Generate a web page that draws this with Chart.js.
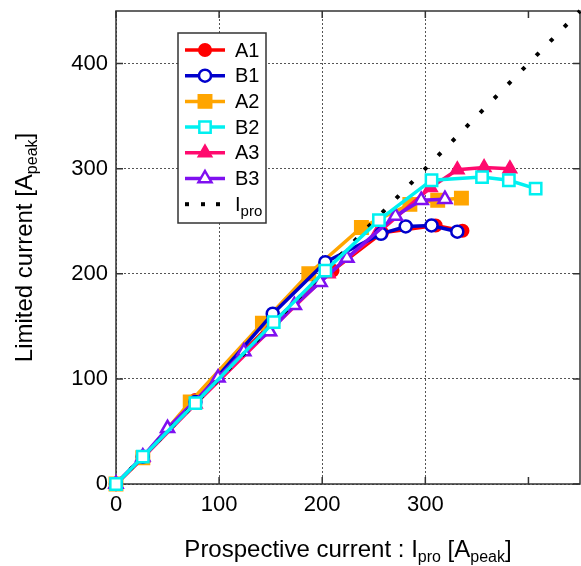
<!DOCTYPE html>
<html lang="en">
<head>
<meta charset="UTF-8">
<title>Limited current vs prospective current</title>
<script src="https://cdn.jsdelivr.net/npm/chart.js@4.4.1/dist/chart.umd.min.js"></script>
<style>
  html, body { margin: 0; padding: 0; background: #fff; overflow: hidden; }
  #wrap { width: 591px; height: 566px; }
</style>
</head>
<body>
<div id="wrap"><canvas id="chart" width="591" height="566"></canvas></div>
<script>
// Prospective current (x) vs limited current (y), A_peak
const a1X = [0, 26, 77, 153, 210, 258, 310, 336];
const a1Y = [0, 25, 80, 155, 203, 239, 246, 241];
const b1X = [0, 26, 77, 152, 203, 257, 281, 306, 331];
const b1Y = [0, 26, 78, 162, 211, 238, 245, 246, 240];
const a2X = [0, 26, 72, 142, 187, 238, 285, 312, 335];
const a2Y = [0, 25, 78, 153, 200, 244, 266, 270, 272];
const b2X = [0, 26, 77, 153, 203, 255, 306, 355, 381, 407];
const b2Y = [0, 26, 77, 154, 203, 251, 289, 292, 289, 281];
const a3X = [0, 26, 77, 148, 206, 253, 305, 331, 357, 382];
const a3Y = [0, 25, 76, 145, 200, 238, 282, 299, 301, 300];
const b3X = [0, 26, 50, 99, 124, 149, 173, 198, 224, 271, 296, 319];
const b3Y = [0, 26, 53, 101, 126, 145, 170, 192, 215, 255, 270, 271];
const iproX = [0, 450];
const iproY = [0, 450];

const xTicks = [0, 100, 200, 300, 400];
const yTicks = [0, 100, 200, 300, 400];

const FONT = "'Liberation Sans', Arial, sans-serif";

function pts(xs, ys) { return xs.map((x, i) => ({ x: x, y: ys[i] })); }

// kind / filled are only used by the hand-drawn legend
function series(label, xs, ys, color, kind, filled, radius, bw, order) {
  return {
    label: label, data: pts(xs, ys), kind: kind, filled: filled,
    borderColor: color, borderWidth: 3.5, showLine: true, clip: false,
    pointStyle: kind, pointRadius: radius, pointHoverRadius: radius,
    pointBorderWidth: bw, pointBorderColor: color,
    pointBackgroundColor: filled ? color : '#fff',
    order: order,
  };
}

const datasets = [
  series('A1', a1X, a1Y, '#ff0000', 'circle', true, 6, 2, 6),
  series('B1', b1X, b1Y, '#0000cc', 'circle', false, 6, 2.5, 3),
  series('A2', a2X, a2Y, '#ffa500', 'rect', true, 9.5, 1.5, 5),
  series('B2', b2X, b2Y, '#00f0f0', 'rect', false, 8, 2.5, 0),
  series('A3', a3X, a3Y, '#ff0a6e', 'triangle', true, 8, 1.5, 4),
  series('B3', b3X, b3Y, '#7f10f0', 'triangle', false, 7.5, 2.5, 2),
  {
    label: 'Ipro', data: pts(iproX, iproY), showLine: true, clip: false,
    borderColor: '#000', borderWidth: 4, borderDash: [4, 16],
    pointRadius: 0, pointHoverRadius: 0, order: 1, kind: 'dots',
  },
];

// text with subscripts, parts = [[text, isSub], ...]
function richWidth(ctx, parts, size, subSize) {
  let w = 0;
  parts.forEach(p => { ctx.font = (p[1] ? subSize : size) + 'px ' + FONT; w += ctx.measureText(p[0]).width; });
  return w;
}
function drawRich(ctx, parts, x, y, size, subSize) {
  let cx = x - richWidth(ctx, parts, size, subSize) / 2;
  ctx.textAlign = 'left';
  ctx.textBaseline = 'alphabetic';
  parts.forEach(p => {
    ctx.font = (p[1] ? subSize : size) + 'px ' + FONT;
    ctx.fillText(p[0], cx, p[1] ? y + 5 : y);
    cx += ctx.measureText(p[0]).width;
  });
}
function drawRichLeft(ctx, parts, x, y, size, subSize) {
  const w = richWidth(ctx, parts, size, subSize);
  drawRich(ctx, parts, x + w / 2, y, size, subSize);
}

function marker(ctx, ds, x, y) {
  const r = ds.pointRadius;
  ctx.beginPath();
  if (ds.kind === 'circle') {
    ctx.arc(x, y, r, 0, Math.PI * 2);
  } else if (ds.kind === 'rect') {
    const s = r * Math.SQRT1_2;
    ctx.rect(x - s, y - s, 2 * s, 2 * s);
  } else {
    ctx.moveTo(x, y - r);
    ctx.lineTo(x + r * 0.866, y + r / 2);
    ctx.lineTo(x - r * 0.866, y + r / 2);
    ctx.closePath();
  }
  ctx.fillStyle = ds.pointBackgroundColor;
  ctx.fill();
  ctx.lineWidth = ds.pointBorderWidth;
  ctx.strokeStyle = ds.borderColor;
  ctx.stroke();
}

const frame = {
  id: 'frame',
  beforeDatasetsDraw(chart) {
    const { ctx, chartArea: a, scales: { x, y } } = chart;
    ctx.save();
    ctx.strokeStyle = '#333';
    ctx.lineWidth = 1.5;
    ctx.strokeRect(a.left, a.top, a.right - a.left, a.bottom - a.top);
    ctx.beginPath();
    xTicks.forEach(v => {
      const px = x.getPixelForValue(v);
      ctx.moveTo(px, a.bottom); ctx.lineTo(px, a.bottom - 7);
      ctx.moveTo(px, a.top); ctx.lineTo(px, a.top + 7);
    });
    yTicks.forEach(v => {
      const py = y.getPixelForValue(v);
      ctx.moveTo(a.left, py); ctx.lineTo(a.left + 7, py);
      ctx.moveTo(a.right, py); ctx.lineTo(a.right - 7, py);
    });
    ctx.stroke();
    ctx.restore();
  },
  afterDraw(chart) {
    const { ctx, chartArea: a } = chart;
    ctx.save();
    ctx.fillStyle = '#000';

    // axis titles
    drawRich(ctx, [['Prospective current : I', false], ['pro', true], [' [A', false], ['peak', true], [']', false]],
      (a.left + a.right) / 2, 557, 24, 16);
    ctx.save();
    ctx.translate(32, (a.top + a.bottom) / 2);
    ctx.rotate(-Math.PI / 2);
    drawRich(ctx, [['Limited current [A', false], ['peak', true], [']', false]], 0, 0, 24, 16);
    ctx.restore();

    // legend
    const lx = 178, ly = 33, lw = 88, lh = 190, step = 25.7;
    ctx.fillStyle = '#fff';
    ctx.fillRect(lx, ly, lw, lh);
    ctx.strokeStyle = '#333';
    ctx.lineWidth = 1.5;
    ctx.strokeRect(lx, ly, lw, lh);
    chart.data.datasets.forEach((ds, row) => {
      const cy = 50 + row * step;
      if (ds.kind === 'dots') {
        ctx.fillStyle = '#000';
        [187, 203, 218].forEach(dx => ctx.fillRect(dx - 2, cy - 2, 4, 4));
        drawRichLeft(ctx, [['I', false], ['pro', true]], 235, cy + 7, 20, 15);
      } else {
        ctx.strokeStyle = ds.borderColor;
        ctx.lineWidth = 3.5;
        ctx.beginPath(); ctx.moveTo(185, cy); ctx.lineTo(225, cy); ctx.stroke();
        marker(ctx, ds, 205, cy);
        ctx.fillStyle = '#000';
        ctx.font = '20px ' + FONT;
        ctx.textAlign = 'left';
        ctx.textBaseline = 'middle';
        ctx.fillText(ds.label, 235, cy + 1);
      }
    });
    ctx.restore();
  }
};

const tickFont = { family: FONT, size: 22 };

new Chart(document.getElementById('chart'), {
  type: 'scatter',
  data: { datasets: datasets },
  options: {
    responsive: false,
    animation: false,
    layout: { padding: { top: 10, right: 1, left: 0, bottom: 0 } },
    plugins: { legend: { display: false }, tooltip: { enabled: false } },
    scales: {
      x: {
        type: 'linear', min: 0, max: 450,
        afterFit(scale) { scale.height = 82; scale.paddingLeft = 0; scale.paddingRight = 0; },
        grid: { color: '#555', lineWidth: 1, drawTicks: false },
        border: { display: false, dash: [2, 2] },
        ticks: {
          stepSize: 100, padding: 8, color: '#000', font: tickFont, maxRotation: 0,
          callback: v => xTicks.includes(v) ? String(v) : null,
        },
      },
      y: {
        type: 'linear', min: 0, max: 450,
        afterFit(scale) { scale.width = 116; scale.paddingTop = 0; scale.paddingBottom = 0; },
        grid: { color: '#555', lineWidth: 1, drawTicks: false },
        border: { display: false, dash: [2, 2] },
        ticks: {
          stepSize: 100, padding: 8, color: '#000', font: tickFont,
          callback: v => yTicks.includes(v) ? String(v) : null,
        },
      },
    },
  },
  plugins: [frame],
});
</script>
</body>
</html>
